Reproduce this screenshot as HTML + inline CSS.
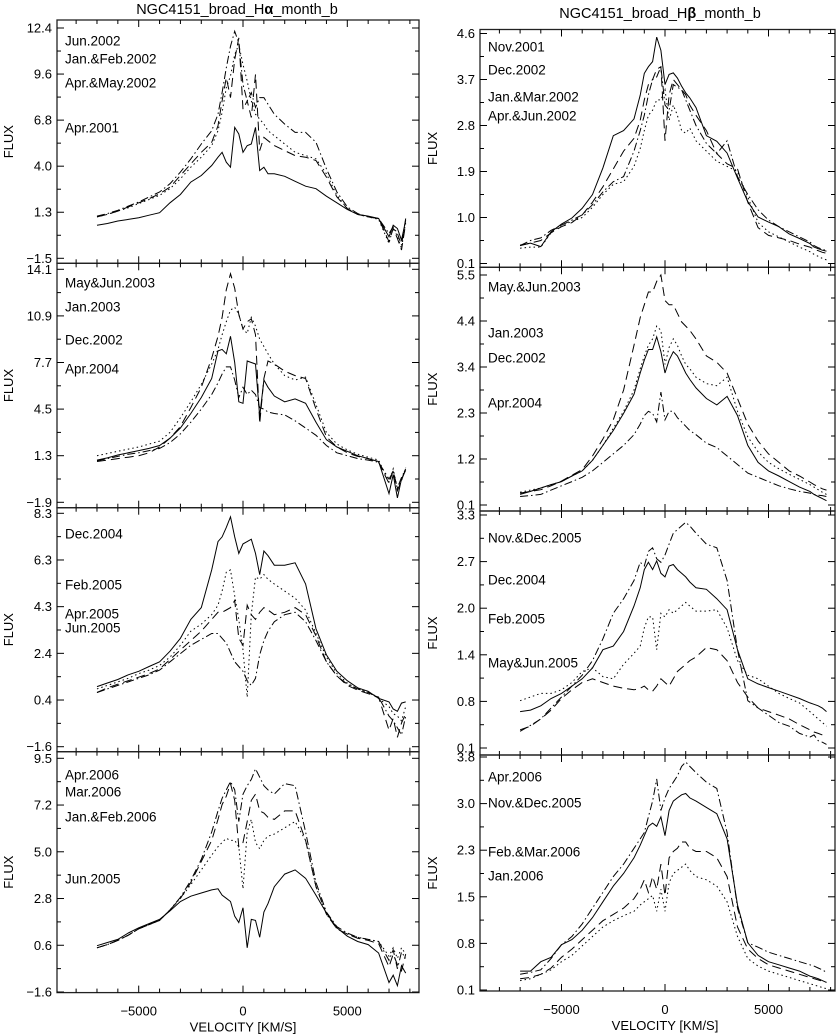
<!DOCTYPE html>
<html><head><meta charset="utf-8"><style>
html,body{margin:0;padding:0;background:#fff;}
svg{display:block;font-family:"Liberation Sans",sans-serif;}
</style></head><body>
<svg id="chart" width="837" height="1035" viewBox="0 0 837 1035" xmlns="http://www.w3.org/2000/svg">
<text x="237" y="14" font-size="14.5" text-anchor="middle">NGC4151_broad_H<tspan font-weight="bold">α</tspan>_month_b</text>
<text x="660" y="18" font-size="14.5" text-anchor="middle">NGC4151_broad_H<tspan font-weight="bold">β</tspan>_month_b</text>
</svg>
<script>
const velocity=[-7000,-6500,-6000,-5500,-5000,-4500,-4000,-3500,-3000,-2500,-2000,-1500,-1200,-1000,-800,-600,-400,-200,0,200,400,600,800,1000,1200,1500,2000,2500,3000,3500,4000,4500,5000,5500,6000,6500,7000,7200,7400,7600,7800];
const xTickValues=[-5000,0,5000];
const xTickLabels=["\u22125000","0","5000"];
// Panel L1 (H-alpha)
const ha1Ticks=["12.4","9.6","6.8","4.0","1.3","\u22121.5"];
const ha1Range=[12.4,-1.5];
const ha1Solid=[0.5,0.6,0.75,0.85,0.95,1.1,1.25,1.85,2.35,3.1,3.5,4.1,4.6,4.9,4.3,4.0,6.4,6.0,4.9,5.3,5.4,6.4,3.8,4.0,3.6,3.6,3.45,3.15,2.85,2.7,2.25,1.85,1.45,1.15,1.05,0.9,-0.2,0.5,0.3,-0.4,0.8];
const ha1DashDot=[1.05,1.2,1.4,1.65,1.9,2.2,2.5,3.0,3.7,4.5,5.4,6.2,7.2,8.5,10.0,11.3,12.2,11.5,9.0,8.0,8.5,7.6,8.2,8.2,7.8,7.2,6.6,6.1,6.1,5.5,3.9,2.5,1.6,1.2,1.0,0.9,0.0,0.4,0.0,-0.7,0.9];
const ha1Dashed=[1.0,1.15,1.35,1.6,1.85,2.1,2.4,2.8,3.5,4.2,4.9,5.5,6.5,8.0,9.4,8.2,10.5,11.8,7.5,8.0,7.0,9.6,5.0,5.8,5.6,5.3,5.0,4.7,4.6,4.4,3.4,2.2,1.5,1.15,1.0,0.9,-0.5,0.3,-0.3,-1.0,0.6];
const ha1Dotted=[1.0,1.15,1.35,1.55,1.8,2.05,2.3,2.7,3.3,4.0,4.6,5.3,6.2,7.3,8.8,9.5,10.8,11.4,10.2,9.2,8.0,7.2,6.9,6.6,6.2,5.9,5.4,4.9,4.7,4.5,3.6,2.3,1.5,1.15,1.0,0.85,-0.6,0.4,-0.2,-0.9,0.7];
// Panel L2
const ha2Ticks=["14.1","10.9","7.7","4.5","1.3","\u22121.9"];
const ha2Range=[14.1,-1.9];
const ha2Dashed=[0.9,1.0,1.1,1.2,1.3,1.5,1.9,2.5,3.3,4.6,6.0,8.0,9.5,10.8,12.7,13.8,12.8,11.0,10.0,10.5,10.7,9.6,3.5,6.6,7.8,7.6,7.1,6.8,6.6,4.5,2.6,1.9,1.5,1.25,1.1,0.85,-0.6,0.3,-1.1,-0.4,0.4];
const ha2Dotted=[1.3,1.45,1.6,1.75,1.9,2.1,2.3,2.9,3.9,5.0,6.2,7.6,8.6,9.6,10.5,11.3,11.5,11.0,10.0,9.7,10.8,10.2,9.3,8.8,8.3,7.6,6.8,6.5,6.7,4.8,2.9,2.1,1.7,1.4,1.2,1.0,-0.5,0.4,-1.0,-0.4,0.5];
const ha2Solid=[1.0,1.15,1.35,1.5,1.65,1.8,2.0,2.5,3.2,4.2,5.3,6.6,8.5,8.6,8.3,9.5,7.7,5.0,4.9,7.8,7.7,7.6,4.0,6.5,6.0,5.4,5.0,5.2,4.9,3.6,2.4,1.9,1.6,1.3,1.1,0.9,-1.3,0.0,-1.6,-0.3,0.3];
const ha2DashDot=[0.95,1.1,1.25,1.4,1.5,1.65,1.8,2.2,2.8,3.6,4.5,5.5,6.3,6.9,7.4,7.4,6.5,5.3,6.0,5.5,5.8,5.5,4.6,4.5,4.3,4.2,4.1,3.7,3.2,2.7,2.0,1.5,1.3,1.1,1.0,0.85,-0.3,0.2,-0.9,-0.2,0.4];
// Panel L3
const ha3Ticks=["8.3","6.3","4.3","2.4","0.4","\u22121.6"];
const ha3Range=[8.3,-1.6];
const ha3Solid=[0.95,1.1,1.25,1.45,1.6,1.8,2.0,2.45,3.0,3.8,4.3,5.9,7.1,7.3,7.7,8.15,7.3,6.6,7.0,7.1,7.2,6.6,5.7,6.7,6.5,6.1,6.1,6.2,5.3,3.4,2.3,1.6,1.2,0.9,0.75,0.45,0.3,0.0,-0.1,0.25,0.3];
const ha3Dotted=[0.85,1.0,1.15,1.3,1.5,1.65,1.85,2.2,2.7,3.3,3.6,4.0,4.4,5.0,5.8,5.9,4.8,3.8,2.5,0.5,4.0,5.6,5.5,5.7,5.5,5.3,5.0,4.7,4.2,3.2,2.2,1.5,1.1,0.85,0.7,0.45,0.1,-0.2,-0.3,-0.5,0.1];
const ha3Dashed=[0.7,0.9,1.05,1.2,1.35,1.5,1.7,2.1,2.5,2.9,3.3,3.8,4.1,4.1,4.2,4.3,4.6,3.0,2.7,4.4,4.0,3.8,4.1,4.3,4.2,4.0,4.1,4.3,4.0,3.1,2.0,1.4,1.0,0.8,0.65,0.5,-0.9,-0.4,-1.2,-0.6,-0.2];
const ha3DashDot=[0.7,0.85,1.0,1.15,1.3,1.45,1.65,2.0,2.35,2.7,2.95,3.2,3.2,3.0,2.8,2.4,2.0,1.8,1.6,1.2,1.0,1.3,2.3,2.9,3.3,3.7,4.0,4.1,3.7,2.9,2.0,1.4,1.05,0.85,0.7,0.5,-0.3,-0.5,-0.8,-1.1,-0.3];
// Panel L4
const ha4Ticks=["9.5","7.2","5.0","2.8","0.6","\u22121.6"];
const ha4Range=[9.5,-1.6];
const ha4Solid=[0.6,0.75,0.9,1.2,1.45,1.65,1.85,2.25,2.7,2.95,3.1,3.25,3.3,3.0,2.85,2.7,2.0,1.7,2.4,0.5,1.85,1.8,1.0,2.2,2.6,3.4,4.0,4.2,3.8,3.0,2.15,1.45,1.05,0.8,0.65,0.25,-1.15,-0.8,-1.3,-0.35,-0.7];
const ha4DashDot=[0.5,0.65,0.85,1.1,1.4,1.6,1.8,2.3,2.9,3.7,4.7,6.0,7.0,7.6,8.0,8.4,8.0,6.5,7.8,8.2,8.5,9.0,8.6,8.2,8.0,7.8,8.3,8.2,6.0,3.6,2.2,1.5,1.2,1.0,0.9,0.8,-0.1,0.4,-0.5,0.3,0.0];
const ha4Dashed=[0.5,0.65,0.85,1.1,1.4,1.6,1.8,2.3,2.85,3.6,4.6,5.6,6.6,7.3,7.7,8.3,7.5,5.3,5.5,6.5,7.5,7.8,7.0,6.9,6.7,6.6,7.0,7.0,5.6,3.4,2.1,1.4,1.15,0.95,0.85,0.7,-0.4,0.2,-0.3,-0.6,0.2];
const ha4Dotted=[0.5,0.65,0.85,1.1,1.4,1.6,1.8,2.3,2.85,3.5,4.2,4.9,5.3,5.5,5.7,5.6,5.6,5.3,3.3,6.0,6.6,5.5,5.2,5.6,5.8,5.9,6.2,6.5,5.6,3.4,2.1,1.4,1.15,1.0,0.9,0.8,0.1,0.5,0.0,0.5,0.2];
// Panel R1 (H-beta)
const hb1Ticks=["4.6","3.7","2.8","1.9","1.0","0.1"];
const hb1Range=[4.6,0.1];
const hb1Solid=[0.46,0.5,0.43,0.72,0.87,0.99,1.18,1.45,1.97,2.6,2.7,2.93,3.39,3.82,3.95,4.05,4.53,4.27,3.6,3.8,3.83,3.73,3.57,3.44,3.34,3.15,2.6,2.49,2.26,1.77,1.31,1.01,0.91,0.82,0.68,0.59,0.49,0.42,0.39,0.36,0.34];
const hb1Dashed=[0.45,0.5,0.55,0.7,0.82,0.9,1.05,1.3,1.6,1.95,2.3,2.55,2.9,3.3,3.6,3.7,3.9,3.95,2.5,3.4,3.7,3.6,3.5,3.4,3.2,3.0,2.7,2.25,2.05,1.95,1.3,0.8,0.65,0.6,0.55,0.48,0.42,0.38,0.35,0.32,0.3];
const hb1DashDot=[0.45,0.55,0.6,0.75,0.85,0.95,1.05,1.25,1.5,1.7,1.8,2.3,2.7,3.0,3.4,3.7,3.75,3.95,3.2,3.1,3.6,3.55,3.5,3.3,3.1,2.8,2.45,2.25,2.5,1.8,1.45,1.15,0.95,0.82,0.72,0.62,0.52,0.45,0.41,0.38,0.35];
const hb1Dotted=[0.4,0.42,0.42,0.7,0.85,0.92,1.0,1.2,1.45,1.65,1.7,2.0,2.35,2.7,3.0,3.1,3.3,3.3,3.5,2.9,3.2,3.0,2.7,2.65,2.75,2.5,2.3,2.1,2.0,1.9,1.4,0.9,0.72,0.62,0.52,0.42,0.33,0.28,0.24,0.2,0.17];
// Panel R2
const hb2Ticks=["5.5","4.4","3.4","2.3","1.2","0.1"];
const hb2Range=[5.5,0.1];
const hb2Dashed=[0.38,0.42,0.46,0.55,0.66,0.8,0.93,1.25,1.65,2.1,2.8,3.85,4.5,4.8,5.1,5.1,5.35,5.5,4.9,4.8,4.8,4.6,4.4,4.3,4.2,4.0,3.6,3.45,3.2,2.6,2.0,1.6,1.3,1.1,0.9,0.78,0.64,0.58,0.53,0.48,0.45];
const hb2Dotted=[0.4,0.45,0.5,0.58,0.65,0.78,0.9,1.15,1.5,1.9,2.3,2.8,3.3,3.6,3.85,4.0,4.3,4.2,3.4,3.8,4.0,3.85,3.6,3.4,3.3,3.1,2.95,2.9,3.1,2.3,1.7,1.35,1.1,0.95,0.82,0.7,0.58,0.52,0.46,0.4,0.35];
const hb2Solid=[0.35,0.42,0.5,0.58,0.65,0.78,0.9,1.15,1.5,1.85,2.25,2.7,3.2,3.5,3.75,3.75,4.05,3.7,3.2,3.5,3.7,3.6,3.4,3.2,3.05,2.85,2.6,2.45,2.65,2.2,1.5,1.1,0.9,0.78,0.65,0.52,0.42,0.35,0.3,0.25,0.2];
const hb2DashDot=[0.3,0.32,0.35,0.45,0.55,0.65,0.75,0.9,1.1,1.3,1.5,1.75,2.0,2.2,2.3,2.25,2.05,2.75,2.1,2.3,2.3,2.15,2.05,1.95,1.85,1.75,1.55,1.45,1.25,1.05,0.85,0.75,0.65,0.55,0.48,0.42,0.38,0.35,0.33,0.32,0.3];
// Panel R3
const hb3Ticks=["3.3","2.7","2.0","1.4","0.8","0.1"];
const hb3Range=[3.3,0.1];
const hb3DashDot=[0.33,0.41,0.5,0.65,0.8,0.95,1.1,1.3,1.6,1.95,2.15,2.4,2.65,2.6,2.8,2.85,2.7,2.65,2.75,2.9,3.05,3.1,3.15,3.2,3.15,3.05,2.9,2.85,2.4,1.45,0.75,0.65,0.55,0.45,0.4,0.3,0.25,0.28,0.2,0.18,0.15];
const hb3Solid=[0.6,0.62,0.68,0.78,0.85,0.95,1.05,1.2,1.45,1.5,1.7,2.05,2.3,2.55,2.65,2.55,2.67,2.5,2.45,2.6,2.62,2.55,2.5,2.45,2.38,2.3,2.28,2.15,2.0,1.45,1.05,0.98,0.93,0.88,0.83,0.78,0.72,0.7,0.68,0.65,0.6];
const hb3Dotted=[0.75,0.8,0.85,0.85,0.9,1.0,1.15,1.2,1.08,1.05,1.25,1.4,1.5,1.75,1.9,1.9,1.45,1.95,1.9,2.0,1.95,2.0,2.05,2.1,2.05,1.98,1.98,2.0,1.75,1.3,1.1,1.05,0.95,0.85,0.78,0.72,0.6,0.55,0.5,0.45,0.4];
const hb3Dashed=[0.35,0.4,0.5,0.62,0.78,0.9,1.0,1.05,1.0,0.95,0.92,0.9,0.92,0.95,0.9,0.88,0.95,1.05,1.0,0.95,1.05,1.15,1.2,1.25,1.3,1.35,1.48,1.45,1.3,1.0,0.8,0.65,0.6,0.55,0.5,0.42,0.35,0.32,0.3,0.28,0.25];
// Panel R4
const hb4Ticks=["3.8","3.0","2.3","1.5","0.8","0.1"];
const hb4Range=[3.8,0.1];
const hb4DashDot=[0.35,0.38,0.42,0.6,0.82,0.95,1.15,1.4,1.65,1.9,2.1,2.35,2.5,2.6,2.85,3.1,3.45,2.95,3.15,3.3,3.4,3.5,3.65,3.72,3.65,3.55,3.4,3.3,2.6,1.4,0.85,0.78,0.7,0.65,0.6,0.55,0.5,0.48,0.45,0.42,0.38];
const hb4Solid=[0.4,0.4,0.55,0.62,0.82,0.9,1.05,1.25,1.5,1.75,1.95,2.2,2.4,2.55,2.7,2.75,2.7,2.85,2.55,2.95,3.1,3.15,3.2,3.22,3.15,3.1,3.0,2.9,2.5,1.45,0.85,0.65,0.55,0.5,0.45,0.4,0.32,0.3,0.28,0.25,0.22];
const hb4Dashed=[0.28,0.3,0.35,0.45,0.62,0.75,0.9,1.05,1.2,1.3,1.4,1.55,1.7,1.85,1.65,1.9,1.7,2.1,1.6,2.2,2.3,2.35,2.45,2.45,2.35,2.3,2.3,2.2,1.9,1.1,0.75,0.6,0.5,0.45,0.4,0.35,0.3,0.28,0.26,0.24,0.22];
const hb4Dotted=[0.25,0.28,0.35,0.42,0.55,0.65,0.8,0.95,1.1,1.2,1.28,1.35,1.45,1.5,1.55,1.6,1.35,1.7,1.35,1.8,1.95,2.0,2.05,2.1,2.0,1.9,1.85,1.75,1.5,0.95,0.6,0.48,0.4,0.35,0.3,0.25,0.2,0.18,0.16,0.14,0.12];

const STY={solid:null,dashed:"9,5",dotted:"1.5,3",dashdot:"8,3,1.5,3"};
const NS="http://www.w3.org/2000/svg";
const svg=document.getElementById("chart");
function mk(tag,attrs,parent){const e=document.createElementNS(NS,tag);for(const k in attrs)e.setAttribute(k,attrs[k]);(parent||svg).appendChild(e);return e;}

const colL={x0:57,x1:419,zeroX:243,pxPer5000:104.3,labelX:52,textX:65,fluxX:13};
const colR={x0:480,x1:835,zeroX:665,pxPer5000:103.5,labelX:475,textX:488,fluxX:437};
const panels=[
 {id:"halpha-2001-2002",col:colL,top:20,bot:263.3,tTop:28,tBot:258.3,range:ha1Range,ticks:ha1Ticks,series:[[ha1Solid,"solid"],[ha1DashDot,"dashdot"],[ha1Dashed,"dashed"],[ha1Dotted,"dotted"]],legend:[["Jun.2002",41],["Jan.&Feb.2002",59],["Apr.&May.2002",83],["Apr.2001",128]]},
 {id:"halpha-2002-2004",col:colL,top:263.3,bot:507.7,tTop:269.3,tBot:502.3,range:ha2Range,ticks:ha2Ticks,series:[[ha2Solid,"solid"],[ha2DashDot,"dashdot"],[ha2Dashed,"dashed"],[ha2Dotted,"dotted"]],legend:[["May&Jun.2003",283],["Jan.2003",307],["Dec.2002",340],["Apr.2004",369]]},
 {id:"halpha-2004-2005",col:colL,top:507.7,bot:751.7,tTop:513.3,tBot:746.7,range:ha3Range,ticks:ha3Ticks,series:[[ha3Solid,"solid"],[ha3DashDot,"dashdot"],[ha3Dashed,"dashed"],[ha3Dotted,"dotted"]],legend:[["Dec.2004",534],["Feb.2005",585],["Apr.2005",614],["Jun.2005",628]]},
 {id:"halpha-2005-2006",col:colL,top:751.7,bot:992.6,tTop:758.3,tBot:992,range:ha4Range,ticks:ha4Ticks,series:[[ha4Solid,"solid"],[ha4DashDot,"dashdot"],[ha4Dashed,"dashed"],[ha4Dotted,"dotted"]],legend:[["Apr.2006",775],["Mar.2006",792],["Jan.&Feb.2006",817],["Jun.2005",879]],xaxis:true},
 {id:"hbeta-2001-2002",col:colR,top:29.5,bot:267.3,tTop:33.5,tBot:263.5,range:hb1Range,ticks:hb1Ticks,series:[[hb1Solid,"solid"],[hb1DashDot,"dashdot"],[hb1Dashed,"dashed"],[hb1Dotted,"dotted"]],legend:[["Nov.2001",47],["Dec.2002",70],["Jan.&Mar.2002",97],["Apr.&Jun.2002",116]]},
 {id:"hbeta-2002-2004",col:colR,top:267.3,bot:511,tTop:275,tBot:505,range:hb2Range,ticks:hb2Ticks,series:[[hb2Solid,"solid"],[hb2DashDot,"dashdot"],[hb2Dashed,"dashed"],[hb2Dotted,"dotted"]],legend:[["May.&Jun.2003",287],["Jan.2003",333],["Dec.2002",358],["Apr.2004",403]]},
 {id:"hbeta-2004-2005",col:colR,top:511,bot:755,tTop:515,tBot:748,range:hb3Range,ticks:hb3Ticks,series:[[hb3Solid,"solid"],[hb3DashDot,"dashdot"],[hb3Dashed,"dashed"],[hb3Dotted,"dotted"]],legend:[["Nov.&Dec.2005",538],["Dec.2004",580],["Feb.2005",619],["May&Jun.2005",663]]},
 {id:"hbeta-2005-2006",col:colR,top:755,bot:991,tTop:757,tBot:990,range:hb4Range,ticks:hb4Ticks,series:[[hb4Solid,"solid"],[hb4DashDot,"dashdot"],[hb4Dashed,"dashed"],[hb4Dotted,"dotted"]],legend:[["Apr.2006",777],["Nov.&Dec.2005",803],["Feb.&Mar.2006",852],["Jan.2006",876]],xaxis:true}
];

panels.forEach((p,pi)=>{
 const c=p.col;
 const xs=v=>c.zeroX+v*c.pxPer5000/5000;
 const ys=v=>p.tTop+(p.range[0]-v)/(p.range[0]-p.range[1])*(p.tBot-p.tTop);
 const g=mk("g",{});
 
 
 const cp=mk("clipPath",{id:"cp"+pi},g);
 mk("rect",{x:c.x0,y:p.top,width:c.x1-c.x0,height:p.bot-p.top},cp);
 p.series.forEach(([arr,sty],si)=>{
  let d="";
  arr.forEach((val,i)=>{d+=(i?"L":"M")+xs(velocity[i]).toFixed(1)+","+ys(val).toFixed(1);});
  const path=mk("path",{d:d,fill:"none",stroke:"#000","stroke-width":"1","clip-path":"url(#cp"+pi+")"},g);
  if(STY[sty])path.setAttribute("stroke-dasharray",STY[sty]);
  
  
 });
 const fr=mk("rect",{x:c.x0,y:p.top,width:c.x1-c.x0,height:p.bot-p.top,fill:"none",stroke:"#222","stroke-width":"1.3"},g);
 
 
 const n=p.ticks.length;
 for(let i=0;i<n;i++){
  const y=p.tTop+i*(p.tBot-p.tTop)/(n-1);
  mk("line",{x1:c.x0,x2:c.x0+7,y1:y,y2:y,stroke:"#000","stroke-width":"1"},g);
  mk("line",{x1:c.x1,x2:c.x1-7,y1:y,y2:y,stroke:"#000","stroke-width":"1"},g);
  const t=mk("text",{x:c.labelX,y:y+4.5,"font-size":"13","text-anchor":"end"},g);
  t.textContent=p.ticks[i];
  
  
  if(i<n-1){const ym=y+(p.tBot-p.tTop)/(n-1)/2;
   mk("line",{x1:c.x0,x2:c.x0+4,y1:ym,y2:ym,stroke:"#000","stroke-width":"1"},g);
   mk("line",{x1:c.x1,x2:c.x1-4,y1:ym,y2:ym,stroke:"#000","stroke-width":"1"},g);}
 }
 for(let v=-8000;v<=8000;v+=1000){
  const x=xs(v); if(x<c.x0||x>c.x1)continue;
  const L=(v%5000===0)?7:4;
  mk("line",{x1:x,x2:x,y1:p.bot,y2:p.bot-L,stroke:"#000","stroke-width":"1"},g);
  mk("line",{x1:x,x2:x,y1:p.top,y2:p.top+L,stroke:"#000","stroke-width":"1"},g);
 }
 if(p.xaxis){
  xTickValues.forEach((v,i)=>{
   const t=mk("text",{x:xs(v),y:p.bot+23,"font-size":"13","text-anchor":"middle"},g);
   t.textContent=xTickLabels[i];
   
   
  });
  const xt=mk("text",{x:xs(0),y:p.bot+39,"font-size":"13","text-anchor":"middle"},g);
  xt.textContent="VELOCITY [KM/S]";
  
  
 }
 const fy=(p.top+p.bot)/2;
 const fl=mk("text",{x:c.fluxX,y:fy,"font-size":"13","text-anchor":"middle",transform:"rotate(-90 "+c.fluxX+" "+fy+")"},g);
 fl.textContent="FLUX";
 
 
 p.legend.forEach(([txt,y])=>{
  const t=mk("text",{x:c.textX,y:y+4.5,"font-size":"13.5"},g);
  t.textContent=txt;
  
  
 });
});
</script>
</body></html>
